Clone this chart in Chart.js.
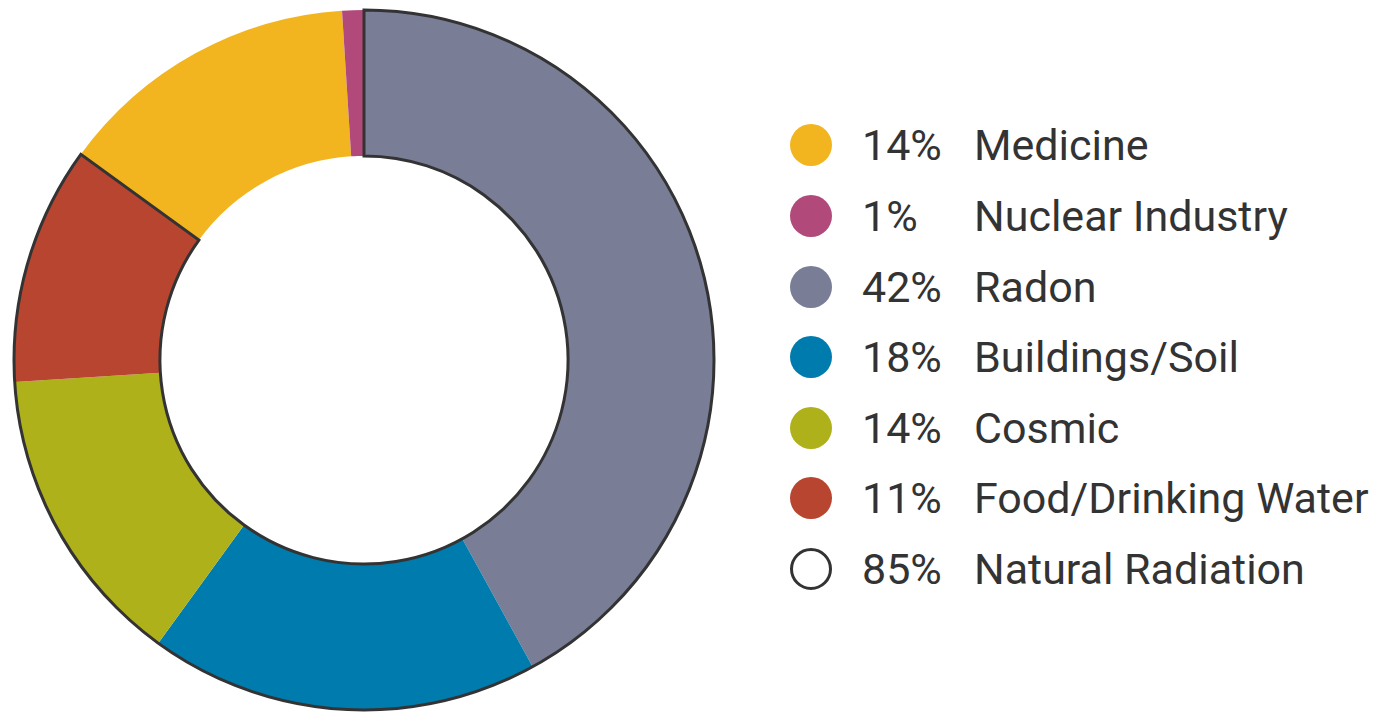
<!DOCTYPE html>
<html>
<head>
<meta charset="utf-8">
<script src="https://cdn.jsdelivr.net/npm/chart.js@4/dist/chart.umd.min.js"></script>
<style>
  html, body { margin: 0; padding: 0; background: #fff; }
  #wrap { position: relative; width: 1373px; height: 714px; overflow: hidden; }
  #donut { position: absolute; left: 0; top: 0; }
  .row { position: absolute; left: 790px; height: 70px; display: flex; align-items: center;
         font-family: Roboto, "Noto Sans", sans-serif; font-size: 43px; color: #333; white-space: nowrap; }
  .dot { width: 42px; height: 42px; border-radius: 50%; box-sizing: border-box; flex: none; }
  .pct { position: absolute; left: 72px; }
  .lab { position: absolute; left: 184px; }
</style>
</head>
<body>
<div id="wrap">
  <canvas id="donut" width="728" height="720"></canvas>
  <div id="legend"></div>
</div>
<script>
/* Slices, clockwise from 12 o'clock */
const labels = ['Radon', 'Buildings/Soil', 'Cosmic', 'Food/Drinking Water', 'Medicine', 'Nuclear Industry'];
const values = [42, 18, 14, 11, 14, 1];
const colors = ['#797d96', '#007bad', '#afb11a', '#b84530', '#f2b520', '#b14a7a'];

// first N slices make up natural radiation (outlined group)
const naturalCount = 4;
const naturalLabel = 'Natural Radiation';
const naturalValue = 85;

// legend rows, top to bottom (index into labels)
const legendOrder = [4, 5, 0, 1, 2, 3];
const legendY = [145, 216, 287, 357, 428, 498, 569];

const outlinePlugin = {
  id: 'naturalOutline',
  afterDatasetsDraw(chart){
    const meta = chart.getDatasetMeta(0);
    const first = meta.data[0], last = meta.data[naturalCount - 1];
    const {x, y, innerRadius, outerRadius, startAngle} = first.getProps(['x', 'y', 'innerRadius', 'outerRadius', 'startAngle'], true);
    const endAngle = last.getProps(['endAngle'], true).endAngle;
    const ctx = chart.ctx;
    ctx.save();
    ctx.beginPath();
    ctx.arc(x, y, outerRadius, startAngle, endAngle);
    ctx.arc(x, y, innerRadius, endAngle, startAngle, true);
    ctx.closePath();
    ctx.lineWidth = 3;
    ctx.strokeStyle = '#333';
    ctx.lineJoin = 'miter';
    ctx.stroke();
    ctx.restore();
  }
};

new Chart(document.getElementById('donut'), {
  type: 'doughnut',
  plugins: [outlinePlugin],
  data: {
    labels: labels,
    datasets: [{
      data: values,
      backgroundColor: colors,
      borderColor: colors,
      borderWidth: 0
    }]
  },
  options: {
    responsive: false,
    animation: false,
    cutout: '58.3%',
    layout: { padding: { left: 14, right: 14, top: 10, bottom: 10 } },
    plugins: { legend: { display: false }, tooltip: { enabled: false } }
  }
});

/* HTML legend */
const legend = document.getElementById('legend');
function addRow(y, pct, text, color){
  const row = document.createElement('div');
  row.className = 'row';
  row.style.top = (y - 35) + 'px';
  const dot = document.createElement('div');
  dot.className = 'dot';
  if(color){
    dot.style.background = color;
  } else {
    dot.style.border = '3px solid #333';
  }
  row.appendChild(dot);
  const p = document.createElement('span');
  p.className = 'pct';
  p.textContent = pct + '%';
  row.appendChild(p);
  const l = document.createElement('span');
  l.className = 'lab';
  l.textContent = text;
  row.appendChild(l);
  legend.appendChild(row);
}
legendOrder.forEach((i, k) => addRow(legendY[k], values[i], labels[i], colors[i]));
addRow(legendY[legendOrder.length], naturalValue, naturalLabel, null);
</script>
</body>
</html>
